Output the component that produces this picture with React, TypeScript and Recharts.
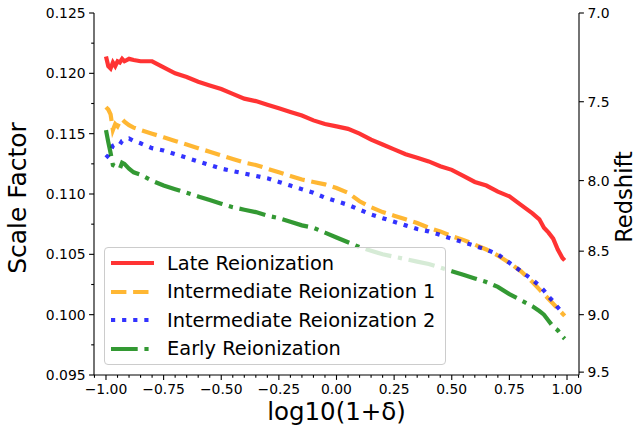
import React from "react";
import { LineChart, Line, XAxis, YAxis, Label } from "recharts";

// log10(1+delta) sample positions
const xs = [
  -1.0, -0.99, -0.98, -0.97, -0.96, -0.95, -0.94, -0.93, -0.92, -0.9, -0.88, -0.85,
  -0.8, -0.75, -0.7, -0.65, -0.6, -0.55, -0.5, -0.45, -0.4, -0.35, -0.3, -0.25,
  -0.2, -0.15, -0.1, -0.05, 0.0, 0.05, 0.1, 0.15, 0.2, 0.25, 0.3, 0.35,
  0.4, 0.45, 0.5, 0.55, 0.6, 0.65, 0.7, 0.75, 0.8, 0.85, 0.88, 0.9,
  0.92, 0.94, 0.96, 0.98, 0.99,
];

const late = [
  0.1214, 0.1206, 0.1204, 0.1209, 0.1206, 0.121, 0.1209, 0.1212, 0.121, 0.1212, 0.1211, 0.121,
  0.121, 0.1205, 0.12, 0.1197, 0.1193, 0.119, 0.1187, 0.1183, 0.1179, 0.1177, 0.1174, 0.1171,
  0.1168, 0.1165, 0.1161, 0.1158, 0.1156, 0.1154, 0.115, 0.1145, 0.1141, 0.1137, 0.1133, 0.113,
  0.1127, 0.1123, 0.112, 0.1115, 0.111, 0.1107, 0.1102, 0.1098, 0.1091, 0.1084, 0.1079, 0.1072,
  0.1068, 0.1063, 0.1054, 0.1047, 0.1045,
];

const inter1 = [
  0.1172, 0.117, 0.1166, 0.1153, 0.1158, 0.1156, 0.116, 0.1162, 0.116, 0.1157, 0.1155, 0.1153,
  0.115, 0.1147, 0.1144, 0.1141, 0.1138, 0.1135, 0.1132, 0.1129, 0.1126, 0.1124, 0.1121, 0.1118,
  0.1115, 0.1112, 0.111, 0.1108, 0.1105, 0.1101, 0.1094, 0.1089, 0.1085, 0.1082, 0.1079, 0.1076,
  0.1072, 0.1069, 0.1065, 0.1062, 0.1058, 0.1054, 0.1049, 0.1043, 0.1036, 0.1027, 0.1021, 0.1017,
  0.1013, 0.1009, 0.1005, 0.1001, 0.0999,
];

const inter2 = [
  0.113, 0.1132, 0.1136, 0.114, 0.1141, 0.1142, 0.1141, 0.1144, 0.1145, 0.1146, 0.1144, 0.1142,
  0.1138, 0.1136, 0.1133, 0.113, 0.1127, 0.1124, 0.1121, 0.1119, 0.1117, 0.1115, 0.1113, 0.111,
  0.1107, 0.1104, 0.1101, 0.1097, 0.1094, 0.1091, 0.1087, 0.1083, 0.108, 0.1077, 0.1074, 0.1071,
  0.1069, 0.1066, 0.1063, 0.106, 0.1057, 0.1054, 0.105, 0.1043, 0.1036, 0.1029, 0.1024, 0.102,
  0.1015, 0.1011, 0.1006, 0.1002, 0.1001,
];

const early = [
  0.1153, 0.1143, 0.1134, 0.1124, 0.1123, 0.1122, 0.1121, 0.1126, 0.1125, 0.1121, 0.1118, 0.1116,
  0.1111, 0.1107, 0.1104, 0.1101, 0.1098, 0.1095, 0.1092, 0.1089, 0.1087, 0.1085, 0.1082, 0.108,
  0.1077, 0.1074, 0.1072, 0.1068, 0.1064, 0.106, 0.1056, 0.1053, 0.105, 0.1048, 0.1046, 0.1044,
  0.1042, 0.1039, 0.1036, 0.1033, 0.103, 0.1027, 0.1023, 0.1017, 0.1012, 0.1007, 0.1003, 0.1,
  0.0995, 0.099, 0.0987, 0.0982, 0.098,
];

const xMajor = [-1.0, -0.75, -0.5, -0.25, 0.0, 0.25, 0.5, 0.75, 1.0];
const yMajor = [0.095, 0.1, 0.105, 0.11, 0.115, 0.12, 0.125];
const redshiftTicks = [7.0, 7.5, 8.0, 8.5, 9.0, 9.5];

const data = xs.map((x, i) => ({
  x,
  late: late[i],
  inter1: inter1[i],
  inter2: inter2[i],
  early: early[i],
}));

const series = [
  { key: "late", name: "Late Reionization", color: "#ff0000", dash: undefined },
  { key: "inter1", name: "Intermediate Reionization 1", color: "#ffa500", dash: "15.4 6.7" },
  { key: "inter2", name: "Intermediate Reionization 2", color: "#0000ff", dash: "4.2 6.9" },
  { key: "early", name: "Early Reionization", color: "#008000", dash: "26.7 6.7 4.2 6.7" },
];

// minor ticks every 0.05 on x, every 0.0025 on the left y
const xTicks: number[] = [];
for (let i = -21; i <= 21; i++) xTicks.push(Math.round(i * 5) / 100);
const yTicks: number[] = [];
for (let i = 38; i <= 50; i++) yTicks.push(Math.round(i * 25) / 10000);
const zTicks = redshiftTicks.map((z) => 1 / (1 + z));

const FONT = "'DejaVu Sans', sans-serif";
const isMajor = (v: number, list: number[]) => list.some((m) => Math.abs(m - v) < 1e-7);
const fmtX = (v: number) => (v < 0 ? "\u2212" + Math.abs(v).toFixed(2) : v.toFixed(2));

// eslint-disable-next-line @typescript-eslint/no-explicit-any
function XTick(props: any) {
  const { x, y, payload } = props;
  const major = isMajor(payload.value, xMajor);
  return (
    <g>
      <line x1={x} x2={x} y1={y} y2={y + (major ? 4.9 : 2.8)} stroke="#000" strokeWidth={1.1} />
      {major && (
        <text x={x} y={y + 19} textAnchor="middle" fontSize={13.9} fontFamily={FONT} fill="#000">
          {fmtX(payload.value)}
        </text>
      )}
    </g>
  );
}

// eslint-disable-next-line @typescript-eslint/no-explicit-any
function YTick(props: any) {
  const { x, y, payload } = props;
  const major = isMajor(payload.value, yMajor);
  return (
    <g>
      <line x1={x} x2={x - (major ? 4.9 : 2.8)} y1={y} y2={y} stroke="#000" strokeWidth={1.1} />
      {major && (
        <text x={x - 8.4} y={y + 5} textAnchor="end" fontSize={13.9} fontFamily={FONT} fill="#000">
          {payload.value.toFixed(3)}
        </text>
      )}
    </g>
  );
}

// eslint-disable-next-line @typescript-eslint/no-explicit-any
function ZTick(props: any) {
  const { x, y, payload } = props;
  const z = 1 / payload.value - 1;
  return (
    <g>
      <line x1={x} x2={x + 4.9} y1={y} y2={y} stroke="#000" strokeWidth={1.1} />
      <text x={x + 8.4} y={y + 5} textAnchor="start" fontSize={13.9} fontFamily={FONT} fill="#000">
        {z.toFixed(1)}
      </text>
    </g>
  );
}

function ChartLegend() {
  return (
    <div
      style={{
        position: "absolute",
        left: 104,
        top: 247,
        width: 342,
        height: 118,
        background: "rgba(255,255,255,0.8)",
        border: "1px solid #cccccc",
        borderRadius: 4,
        fontFamily: FONT,
        fontSize: 19.4,
        paddingTop: 1,
        boxSizing: "border-box",
      }}
    >
      {series.map((s) => (
        <div key={s.key} style={{ display: "flex", alignItems: "center", height: 28.5 }}>
          <svg width={58} height={12} style={{ marginLeft: 4, flex: "none" }}>
            <line
              x1={2}
              x2={45}
              y1={6}
              y2={6}
              stroke={s.color}
              strokeOpacity={0.8}
              strokeWidth={4.2}
              strokeDasharray={s.dash}
            />
          </svg>
          <span style={{ color: "#000", whiteSpace: "nowrap" }}>{s.name}</span>
        </div>
      ))}
    </div>
  );
}

export default function App() {
  return (
    <div style={{ position: "absolute", left: 0, top: 0, width: 637, height: 433, background: "#fff" }}>
      <LineChart width={637} height={433} data={data} margin={{ top: 13, right: 0, bottom: 0, left: 0 }}>
        <XAxis
          xAxisId="top"
          orientation="top"
          dataKey="x"
          type="number"
          domain={[-1.052, 1.052]}
          height={0}
          tick={false}
          tickLine={false}
          axisLine={{ stroke: "#000", strokeWidth: 1.1 }}
        />
        <XAxis
          dataKey="x"
          type="number"
          domain={[-1.052, 1.052]}
          allowDataOverflow
          ticks={xTicks}
          interval={0}
          height={58}
          tickSize={0}
          tickMargin={0}
          tickLine={false}
          tick={<XTick />}
          axisLine={{ stroke: "#000", strokeWidth: 1.1 }}
        >
          <Label
            content={({ viewBox }: any) => (
              <text
                x={viewBox.x + viewBox.width / 2}
                y={viewBox.y + 45}
                textAnchor="middle"
                fontSize={24.5}
                fontFamily={FONT}
                fill="#000"
              >
                log10(1+δ)
              </text>
            )}
          />
        </XAxis>
        <YAxis
          yAxisId="left"
          domain={[0.095, 0.125]}
          allowDataOverflow
          ticks={yTicks}
          interval={0}
          width={94}
          tickSize={0}
          tickMargin={0}
          tickLine={false}
          tick={<YTick />}
          axisLine={{ stroke: "#000", strokeWidth: 1.1 }}
        >
          <Label
            content={({ viewBox }: any) => {
              const cx = viewBox.x + 17;
              const cy = viewBox.y + viewBox.height / 2 + 4;
              return (
                <text
                  x={cx}
                  y={cy}
                  transform={`rotate(-90 ${cx} ${cy})`}
                  textAnchor="middle"
                  dominantBaseline="central"
                  fontSize={25}
                  fontFamily={FONT}
                  fill="#000"
                >
                  Scale Factor
                </text>
              );
            }}
          />
        </YAxis>
        <YAxis
          yAxisId="right"
          orientation="right"
          domain={[0.095, 0.125]}
          allowDataOverflow
          ticks={zTicks}
          interval={0}
          width={58}
          tickSize={0}
          tickMargin={0}
          tickLine={false}
          tick={<ZTick />}
          axisLine={{ stroke: "#000", strokeWidth: 1.1 }}
        >
          <Label
            content={({ viewBox }: any) => {
              const cx = viewBox.x + 45;
              const cy = viewBox.y + viewBox.height / 2 + 3;
              return (
                <text
                  x={cx}
                  y={cy}
                  transform={`rotate(-90 ${cx} ${cy})`}
                  textAnchor="middle"
                  dominantBaseline="central"
                  fontSize={22.6}
                  fontFamily={FONT}
                  fill="#000"
                >
                  Redshift
                </text>
              );
            }}
          />
        </YAxis>
        {series.map((s) => (
          <Line
            key={s.key}
            yAxisId="left"
            type="linear"
            dataKey={s.key}
            name={s.name}
            stroke={s.color}
            strokeOpacity={0.8}
            strokeWidth={4.2}
            strokeDasharray={s.dash}
            dot={false}
            activeDot={false}
            isAnimationActive={false}
          />
        ))}
      </LineChart>
      <ChartLegend />
    </div>
  );
}
